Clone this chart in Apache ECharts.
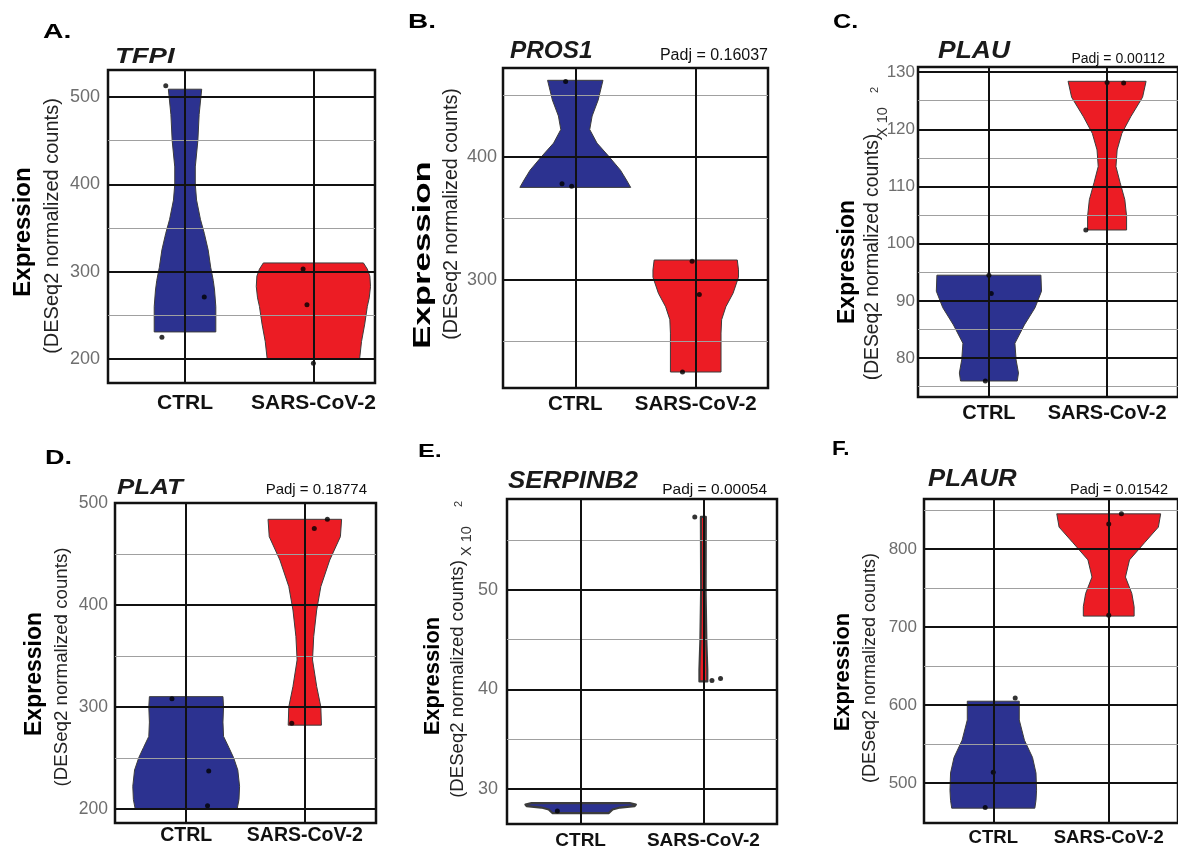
<!DOCTYPE html>
<html><head><meta charset="utf-8">
<script src="https://cdn.jsdelivr.net/npm/echarts@6/dist/echarts.min.js"></script>
<style>html,body{margin:0;padding:0;background:#fff}#c{width:1178px;height:851px}</style>
</head><body><div id="c"></div>
<script>
// ---------------- DATA ----------------
const categories = ['CTRL', 'SARS-CoV-2'];
const panelLetters = ['A.', 'B.', 'C.', 'D.', 'E.', 'F.'];
const geneNames = ['TFPI', 'PROS1', 'PLAU', 'PLAT', 'SERPINB2', 'PLAUR'];
const padjValues = ['', '0.16037', '0.00112', '0.18774', '0.00054', '0.01542'];

// y tick labels (major grid) and minor grid values
const tfpiTicks = [200, 300, 400, 500];      const tfpiMinor = [250, 350, 450];
const pros1Ticks = [300, 400];               const pros1Minor = [250, 350, 450];
const plauTicks = [80, 90, 100, 110, 120, 130]; const plauMinor = [75, 85, 95, 105, 115, 125];
const platTicks = [200, 300, 400, 500];      const platMinor = [250, 350, 450];
const serpinb2Ticks = [30, 40, 50];          const serpinb2Minor = [35, 45, 55];
const plaurTicks = [500, 600, 700, 800];     const plaurMinor = [550, 650, 750, 850];

// violin outlines: [expression value, half-width in category units], top to bottom
const tfpiCtrlViolin = [[509,0.13],[480,0.11],[450,0.10],[420,0.08],[400,0.08],[382,0.09],[360,0.12],[344,0.15],[325,0.18],[305,0.20],[290,0.22],[279,0.23],[260,0.24],[231,0.24]];
const tfpiSarsViolin = [[310,0.39],[303,0.42],[295,0.44],[283,0.445],[270,0.435],[260,0.42],[240,0.40],[220,0.375],[200,0.36]];
const pros1CtrlViolin = [[462,0.23],[446,0.19],[433,0.14],[422,0.12],[411,0.18],[400,0.28],[389,0.375],[381,0.425],[375,0.46]];
const pros1SarsViolin = [[316,0.345],[308,0.355],[302,0.355],[289,0.31],[278,0.25],[267.5,0.215],[256.6,0.21],[225,0.21]];
const plauCtrlViolin = [[94.5,0.44],[91.7,0.445],[88.8,0.39],[85.8,0.30],[82.6,0.22],[79.7,0.23],[77.4,0.25],[76,0.24]];
const plauSarsViolin = [[128.4,0.33],[125.6,0.30],[122.2,0.20],[119.3,0.125],[116.4,0.085],[113.5,0.075],[110.7,0.11],[107.7,0.15],[104.8,0.165],[102.4,0.165]];
const platCtrlViolin = [[310,0.31],[300,0.315],[285,0.31],[271,0.315],[260,0.36],[250,0.40],[238,0.435],[222,0.45],[209,0.445],[200,0.43]];
const platSarsViolin = [[484,0.31],[467,0.30],[444,0.21],[418,0.135],[395,0.10],[369,0.075],[346,0.065],[320,0.10],[300,0.135],[282,0.14]];
const serpinb2CtrlViolin = [[28.6,0.40],[28.45,0.45],[28.3,0.44],[28.15,0.32],[27.95,0.26],[27.6,0.23]];
const serpinb2SarsViolin = [[57.3,0.02],[50,0.018],[45,0.024],[42,0.032],[40.8,0.032]];
const plaurCtrlViolin = [[605,0.225],[581,0.225],[555,0.27],[533,0.34],[513,0.37],[491,0.375],[478,0.37],[468,0.36]];
const plaurSarsViolin = [[845,0.45],[828,0.43],[808,0.31],[786,0.18],[764,0.145],[743,0.20],[726,0.22],[714,0.22]];

// samples: [expression value, horizontal jitter in category units]
const tfpiCtrlPoints = [[513,-0.15],[271,0.15],[225,-0.18]];
const tfpiSarsPoints = [[303,-0.08],[262,-0.05],[195,0.0]];
const pros1CtrlPoints = [[461,-0.08],[378,-0.11],[376,-0.03]];
const pros1SarsPoints = [[315,-0.03],[288,0.03],[225,-0.11]];
const plauCtrlPoints = [[94.5,0.0],[91.3,0.02],[76,-0.03]];
const plauSarsPoints = [[128.2,0.0],[128.1,0.14],[102.4,-0.18]];
const platCtrlPoints = [[308,-0.12],[237,0.19],[203,0.18]];
const platSarsPoints = [[484,0.19],[475,0.08],[284,-0.11]];
const serpinb2CtrlPoints = [[27.8,-0.19]];
const serpinb2SarsPoints = [[57.3,-0.07],[40.9,0.07],[41.1,0.14]];
const plaurCtrlPoints = [[609,0.19],[514,0.0],[469,-0.07]];
const plaurSarsPoints = [[845,0.11],[832,0.0],[715,0.0]];

// ---------------- LAYOUT ----------------
const FONT = '"Liberation Sans", Arial, Helvetica, sans-serif';
const BLUE = '#2c3290', RED = '#ec1c24', OUTLINE = '#3c3c3c';
const panels = [
  {grid:{left:108,top:70,width:267,height:313}, x:[0.4,2.48], y:[172.5,531], ticks:tfpiTicks, minor:tfpiMinor,
   violins:[tfpiCtrlViolin,tfpiSarsViolin], points:[tfpiCtrlPoints,tfpiSarsPoints], tickFont:18, tickMargin:8, xFont:21, xMargin:10, lw:1},
  {grid:{left:503,top:68,width:265,height:320}, x:[0.4,2.6], y:[212,472], ticks:pros1Ticks, minor:pros1Minor,
   violins:[pros1CtrlViolin,pros1SarsViolin], points:[pros1CtrlPoints,pros1SarsPoints], tickFont:18, tickMargin:6, xFont:20.5, xMargin:6, lw:1},
  {grid:{left:918,top:67,width:264,height:330}, x:[0.4,2.6], y:[73.2,130.9], ticks:plauTicks, minor:plauMinor,
   violins:[plauCtrlViolin,plauSarsViolin], points:[plauCtrlPoints,plauSarsPoints], tickFont:17, tickMargin:3, xFont:20, xMargin:6, lw:1},
  {grid:{left:115,top:503,width:261,height:320}, x:[0.4,2.6], y:[186,500], ticks:platTicks, minor:platMinor,
   violins:[platCtrlViolin,platSarsViolin], points:[platCtrlPoints,platSarsPoints], tickFont:17.5, tickMargin:7, xFont:19.5, xMargin:3, lw:1},
  {grid:{left:507,top:499,width:270,height:325}, x:[0.4,2.6], y:[26.5,59.1], ticks:serpinb2Ticks, minor:serpinb2Minor,
   violins:[serpinb2CtrlViolin,serpinb2SarsViolin], points:[serpinb2CtrlPoints,serpinb2SarsPoints], tickFont:18, tickMargin:9, xFont:19, xMargin:7, lw:2.2},
  {grid:{left:924,top:499,width:258,height:324}, x:[0.4,2.6], y:[449,864], ticks:plaurTicks, minor:plaurMinor,
   violins:[plaurCtrlViolin,plaurSarsViolin], points:[plaurCtrlPoints,plaurSarsPoints], tickFont:17, tickMargin:7, xFont:18.5, xMargin:5, lw:1}
];

const grids = [], xAxes = [], yAxes = [], series = [];
panels.forEach((p, i) => {
  grids.push(Object.assign({show:true, borderColor:'#111', borderWidth:2.5, backgroundColor:'transparent'}, p.grid));
  xAxes.push({type:'value', gridIndex:i, min:p.x[0], max:p.x[1],
    axisLine:{show:false}, axisTick:{show:false}, splitLine:{show:false},
    axisLabel:{customValues:[1,2], margin:p.xMargin, color:'#111', fontWeight:'bold', fontSize:p.xFont, fontFamily:FONT,
      formatter:v => (v === 1 || v === 2) ? categories[v-1] : ''}});
  yAxes.push({type:'value', gridIndex:i, min:p.y[0], max:p.y[1],
    axisLine:{show:false}, axisTick:{show:false}, splitLine:{show:false},
    axisLabel:{customValues:p.ticks, margin:p.tickMargin, color:'#6e6e6e', fontSize:p.tickFont, fontFamily:FONT,
      showMinLabel:true, showMaxLabel:true,
      formatter:v => p.ticks.indexOf(v) >= 0 ? String(v) : ''}});
  // grid lines
  const ml = [];
  p.minor.forEach(v => ml.push({yAxis:v, lineStyle:{color:'#a0a0a0', width:1.2, type:'solid'}}));
  p.ticks.forEach(v => ml.push({yAxis:v, lineStyle:{color:'#111', width:2, type:'solid'}}));
  [1,2].forEach(v => ml.push({xAxis:v, lineStyle:{color:'#111', width:2, type:'solid'}}));
  series.push({type:'line', xAxisIndex:i, yAxisIndex:i, data:[], z:1, silent:true,
    markLine:{silent:true, symbol:['none','none'], label:{show:false}, animation:false, emphasis:{disabled:true}, data:ml}});
  // violins
  p.violins.forEach((prof, k) => {
    const cat = k + 1, color = k === 0 ? BLUE : RED;
    series.push({type:'custom', xAxisIndex:i, yAxisIndex:i, z:2, silent:true, clip:true,
      data:[[cat, prof[0][0]]],
      renderItem:(params, api) => {
        const left = [], right = [];
        prof.forEach(([v, hw]) => { left.push(api.coord([cat - hw, v])); right.push(api.coord([cat + hw, v])); });
        return {type:'polygon', shape:{points:left.concat(right.reverse())},
          style:{fill:color, stroke:OUTLINE, lineWidth:p.lw, lineJoin:'round'}};
      }});
  });
  // sample points
  p.points.forEach((pts, k) => {
    const cat = k + 1;
    series.push({type:'scatter', xAxisIndex:i, yAxisIndex:i, z:3, silent:true, symbolSize:5,
      itemStyle:{color:'#000'}, data:pts.map(([v, j]) => [cat + j, v])});
  });
});

// ---------------- TEXT ----------------
const graphics = [];
function txt(text, x, y, font, opt) {
  opt = opt || {};
  graphics.push({type:'text', x:x, y:y, rotation:opt.rot || 0, scaleX:opt.sx || 1, z:100, silent:true,
    style:{text:text, font:font, fill:opt.fill || '#111', align:opt.align || 'left', verticalAlign:'middle'}});
}
const letterPos = [[43,32,21,1.35],[408,22,21,1.33],[833,22,21,1.2],[45,458,20,1.35],[418,452,19,1.33],[832,449,21,1.07]];
const genePos = [[115,57,22,1.25],[510,52,23,1.06],[938,52,23,1.15],[117,488,22,1.18],[508,482,23,1.13],[928,480,23,1.12]];
const padjPos = [null,[768,56,16],[1165,59,14],[367,490,15],[767,490,15.5],[1168,490,14.5]];
const exprPos = [[23,232,24,1],[423,255,24,1.45],[848,262,23,1],[35,674,23,1],[433,676,22,1],[843,672,22,1]];
const deseqPos = [[52,226,20],[452,214,19.7],[873,257,19.3],[62,667,18.7],[458,679,18.6],[870,668,18]];
const R = Math.PI / 2;
panels.forEach((p, i) => {
  const L = letterPos[i]; txt(panelLetters[i], L[0], L[1], 'bold ' + L[2] + 'px ' + FONT, {sx:L[3], fill:'#000'});
  const G = genePos[i]; txt(geneNames[i], G[0], G[1], 'italic bold ' + G[2] + 'px ' + FONT, {sx:G[3], fill:'#1a1a1a'});
  if (padjValues[i]) { const P = padjPos[i]; txt('Padj = ' + padjValues[i], P[0], P[1], P[2] + 'px ' + FONT, {align:'right', fill:'#111'}); }
  const E = exprPos[i]; txt('Expression', E[0], E[1], 'bold ' + E[2] + 'px ' + FONT, {rot:R, sx:E[3], align:'center', fill:'#000'});
  const D = deseqPos[i]; txt('(DESeq2 normalized counts)', D[0], D[1], D[2] + 'px ' + FONT, {rot:R, align:'center', fill:'#222'});
});
// x 10^2 multipliers for PLAU and SERPINB2
txt('X 10', 883, 122, '14.5px ' + FONT, {rot:R, align:'center', fill:'#333'});
txt('2', 875, 90, '11px ' + FONT, {rot:R, align:'center', fill:'#333'});
txt('X 10', 467, 541, '14.5px ' + FONT, {rot:R, align:'center', fill:'#333'});
txt('2', 459, 504, '11px ' + FONT, {rot:R, align:'center', fill:'#333'});

const chart = echarts.init(document.getElementById('c'), null, {renderer:'canvas'});
chart.setOption({animation:false, backgroundColor:'#fff', grid:grids, xAxis:xAxes, yAxis:yAxes, series:series, graphic:graphics});
</script></body></html>
